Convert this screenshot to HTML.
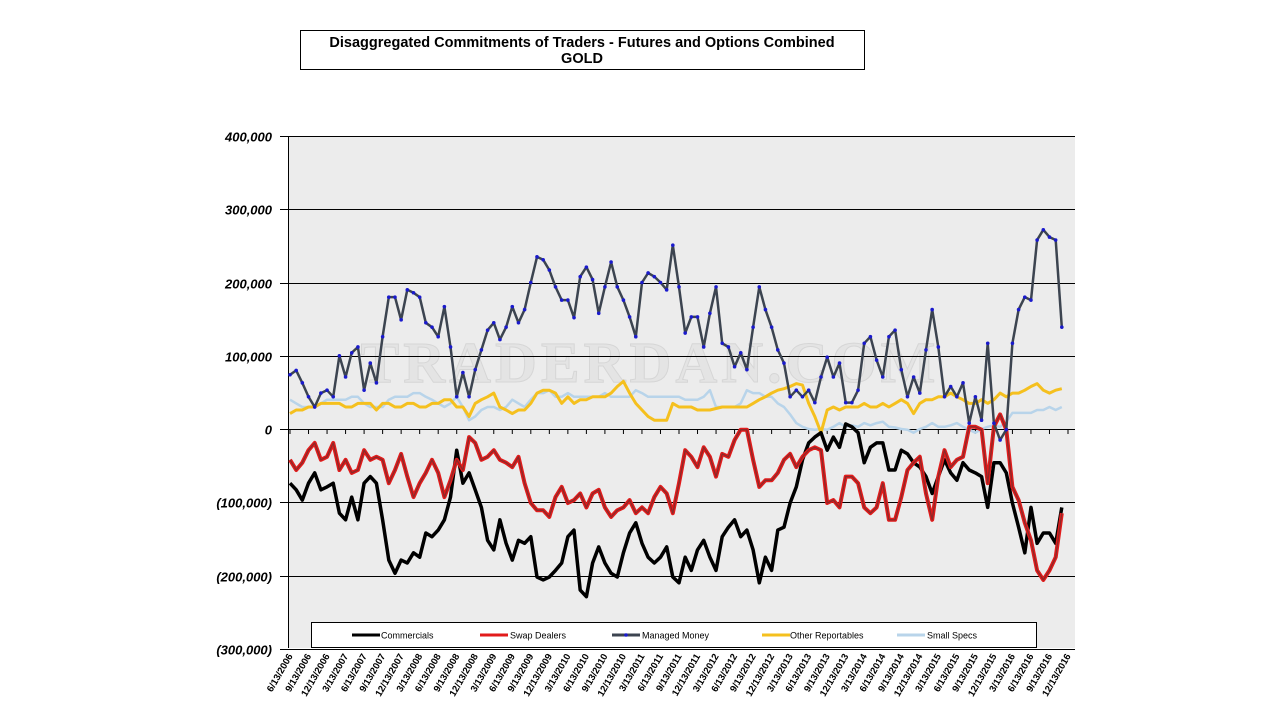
<!DOCTYPE html>
<html><head><meta charset="utf-8"><style>
body{margin:0;width:1280px;height:720px;background:#fff;overflow:hidden;font-family:"Liberation Sans",Arial,sans-serif}
</style></head><body>
<svg id="chart" width="1280" height="720" xmlns="http://www.w3.org/2000/svg" font-family="Liberation Sans, Arial, sans-serif">
<g>
<rect x="300.5" y="30.5" width="564" height="39" fill="#fff" stroke="#000"/>
<text x="582" y="47" text-anchor="middle" font-size="14.5" font-weight="bold">Disaggregated Commitments of Traders - Futures and Options Combined</text>
<text x="582" y="63" text-anchor="middle" font-size="14.5" font-weight="bold">GOLD</text>
</g>
<rect x="288" y="136" width="787" height="512" fill="#ececec"/>
<text x="650" y="382" text-anchor="middle" font-family="Liberation Serif, serif" font-size="58" font-weight="bold" fill="#e4e4e4" stroke="#d6d6d6" stroke-width="1" letter-spacing="4">TRADERDAN.COM</text>
<g id="grid"></g>
<g id="series"></g>
<g id="xlabels"></g>
<g>
<rect x="311.5" y="622.5" width="725" height="25" fill="#fff" stroke="#000"/>
<line x1="352" y1="635" x2="380" y2="635" stroke="#000" stroke-width="3"/>
<text x="381" y="638.5" font-size="9">Commercials</text>
<line x1="480" y1="635" x2="508" y2="635" stroke="#e21b1b" stroke-width="3"/>
<text x="510" y="638.5" font-size="9">Swap Dealers</text>
<line x1="612" y1="635" x2="640" y2="635" stroke="#3c4450" stroke-width="3"/>
<circle cx="626" cy="635" r="1.8" fill="#1a1acc"/>
<text x="642" y="638.5" font-size="9">Managed Money</text>
<line x1="762" y1="635" x2="790" y2="635" stroke="#f5c01e" stroke-width="3"/>
<text x="790" y="638.5" font-size="9">Other Reportables</text>
<line x1="897" y1="635" x2="925" y2="635" stroke="#b8d4ea" stroke-width="3"/>
<text x="927" y="638.5" font-size="9">Small Specs</text>
</g>
</svg>
<script>
const yTicks = [400000,300000,200000,100000,0,-100000,-200000,-300000];
const yTickLabels = ["400,000","300,000","200,000","100,000","0","(100,000)","(200,000)","(300,000)"];
const xLabels = [];
(function(){const m=[6,9,12,3];let yr=2006,k=0;for(let i=0;i<43;i++){const mo=[6,9,12,3][i%4];if(mo===3&&i>0)yr++;xLabels.push(mo+"/13/"+yr);}})();
const managedMoney = [74,80,63,44,30,49,53,44,100,71,104,112,53,90,63,126,180,180,149,190,186,180,145,139,126,167,112,44,77,44,81,108,135,145,122,139,167,145,163,200,235,231,217,194,176,176,152,208,221,204,158,194,228,194,176,153,126,200,213,208,200,190,251,194,131,153,153,112,158,194,117,112,85,104,81,139,194,163,139,108,90,44,53,44,53,36,71,98,71,90,36,36,53,117,126,94,71,126,135,81,44,71,49,108,163,112,44,58,44,63,8,44,12,117,8,-15,-1,117,163,180,176,258,272,262,258,139];
const commercials = [-74,-83,-97,-74,-60,-83,-79,-74,-115,-124,-93,-124,-74,-65,-74,-124,-179,-197,-179,-183,-169,-175,-142,-147,-138,-124,-93,-29,-74,-60,-83,-107,-152,-165,-124,-156,-179,-152,-156,-147,-202,-206,-202,-193,-183,-147,-138,-220,-229,-183,-161,-183,-197,-202,-169,-142,-128,-156,-175,-183,-175,-161,-202,-210,-175,-193,-165,-152,-175,-193,-147,-134,-124,-147,-138,-165,-210,-175,-193,-138,-134,-101,-79,-42,-19,-11,-5,-29,-11,-25,7,3,-5,-46,-25,-19,-19,-56,-56,-29,-34,-46,-52,-65,-88,-65,-42,-60,-70,-46,-56,-60,-65,-107,-46,-46,-60,-101,-134,-169,-107,-156,-142,-142,-156,-107];
const swapDealers = [-42,-56,-46,-29,-19,-42,-38,-19,-56,-42,-60,-56,-29,-42,-38,-42,-74,-56,-34,-65,-93,-74,-60,-42,-60,-93,-70,-42,-56,-11,-19,-42,-38,-29,-42,-46,-52,-38,-74,-101,-111,-111,-120,-93,-79,-101,-97,-88,-107,-88,-83,-107,-120,-111,-107,-97,-115,-107,-115,-93,-79,-88,-115,-74,-29,-38,-52,-25,-38,-65,-34,-38,-15,-1,-1,-42,-79,-70,-70,-60,-42,-34,-52,-38,-29,-25,-29,-101,-97,-107,-65,-65,-74,-107,-115,-107,-74,-124,-124,-93,-56,-46,-38,-88,-124,-65,-29,-52,-42,-38,3,3,-1,-74,3,20,-1,-79,-97,-128,-152,-193,-206,-193,-175,-115];
const otherReportables = [21,26,26,30,30,35,35,35,35,30,30,35,35,35,26,35,35,30,30,35,35,30,30,35,35,40,40,30,30,17,35,40,44,49,30,26,21,26,26,35,49,53,53,49,35,44,35,40,40,44,44,44,49,58,65,49,35,26,17,12,12,12,35,30,30,30,26,26,26,28,30,30,30,30,30,35,40,44,49,53,55,58,62,60,35,17,-5,26,30,26,30,30,30,35,30,30,35,30,35,40,35,21,35,40,40,44,44,49,44,40,35,35,40,35,40,49,44,49,49,53,58,62,53,49,53,55];
const smallSpecs = [40,35,30,30,30,35,40,40,40,40,44,44,35,30,30,30,40,44,44,44,49,49,44,40,35,30,35,44,30,12,17,26,30,30,26,30,40,35,30,40,49,49,53,44,44,49,44,44,44,44,44,49,44,44,44,44,53,49,44,44,44,44,44,44,40,40,40,44,53,30,30,30,30,35,53,49,49,44,44,35,30,20,8,3,0,-1,0,-1,3,8,3,5,3,8,5,8,10,3,2,0,-1,-5,0,3,8,3,3,5,8,3,-1,-5,0,3,5,3,10,22,22,22,22,26,26,30,26,30];

const NS="http://www.w3.org/2000/svg";
const X0=290, X1=1068, NM=126;
function xs(i){return X0+(X1-X0)*i/NM;}
function ys(v){return 429-v*0.7325;}
function el(tag,attrs,parent){const e=document.createElementNS(NS,tag);for(const k in attrs)e.setAttribute(k,attrs[k]);parent.appendChild(e);return e;}
const grid=document.getElementById('grid');
yTicks.forEach((t,k)=>{
  const y=Math.round(ys(t*0.001))+0.5;
  const l=el('line',{x1:280,y1:y,x2:1075,y2:y,stroke:'#000','stroke-width':1},grid);
  
  
  const tx=el('text',{x:272,y:y+5,'text-anchor':'end','font-size':13,'font-weight':'bold','font-style':'italic'},grid);
  tx.textContent=yTickLabels[k];
  
  
});
const ax=el('line',{x1:288.5,y1:136,x2:288.5,y2:648,stroke:'#000','stroke-width':1},grid);


const xl=document.getElementById('xlabels');
xLabels.forEach((lab,k)=>{
  const x=xs(k*3);
  const tk=el('line',{x1:x,y1:429,x2:x,y2:434,stroke:'#000','stroke-width':1},grid);
  
  
  const t=el('text',{x:x+3,y:656,'text-anchor':'end','font-size':9.5,'font-weight':'bold',transform:`rotate(-60 ${x+3} 656)`},xl);
  t.textContent=lab;
  
  
});
const sg=document.getElementById('series');
function pts(arr){return arr.map((v,i)=>xs(i).toFixed(1)+','+ys(v).toFixed(1)).join(' ');}
function line(arr,name,color,w){
  const p=el('polyline',{points:pts(arr),fill:'none',stroke:color,'stroke-width':w,'stroke-linejoin':'round'},sg);
  
  
  return p;
}
line(smallSpecs,'small-specs-line','#b8d4ea',2.5);
line(otherReportables,'other-reportables-line','#f5c01e',3);
line(commercials,'commercials-line','#000',3.5);
line(swapDealers,'swap-dealers-line','#e21b1b',4);
line(swapDealers,'swap-dealers-inner-line','#8b2a2a',1.3);
line(managedMoney,'managed-money-line','#3c4450',2.5);
managedMoney.forEach((v,i)=>{
  const c=el('circle',{cx:xs(i),cy:ys(v),r:1.8,fill:'#1a1acc'},sg);
  
  
});
</script>
</body></html>
